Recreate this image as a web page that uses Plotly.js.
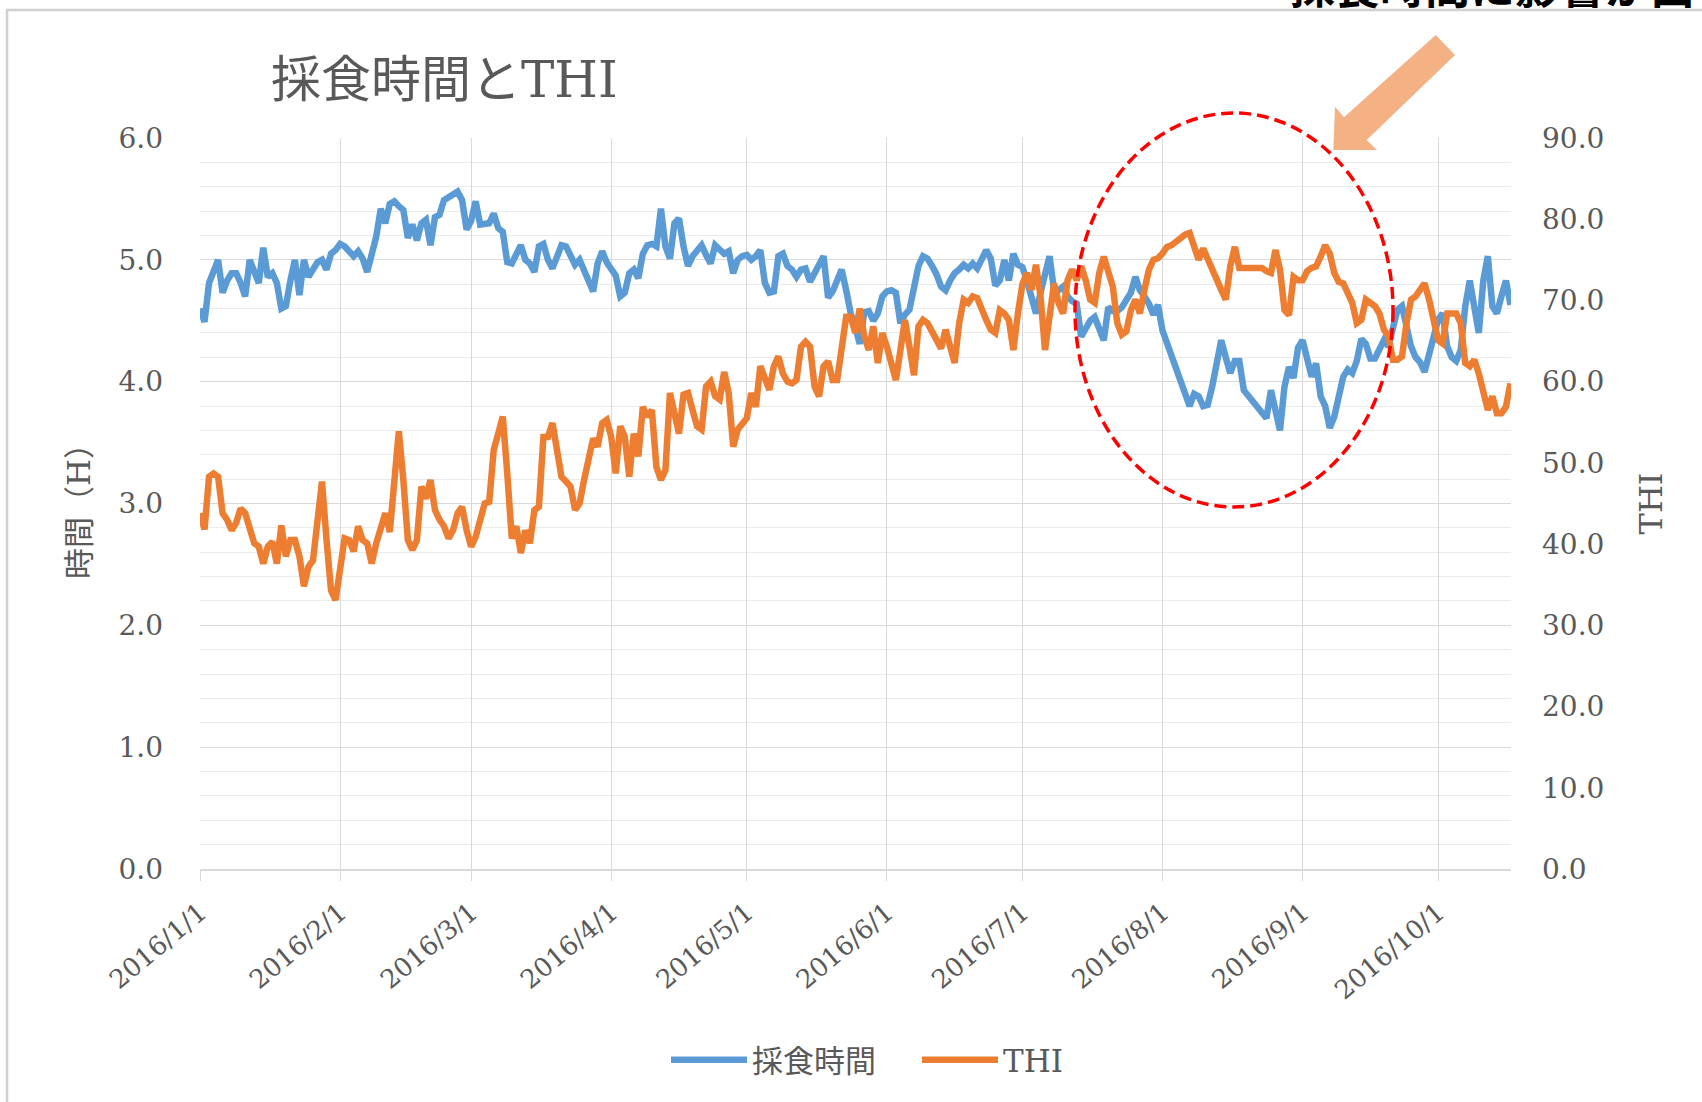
<!DOCTYPE html>
<html>
<head>
<meta charset="utf-8">
<script src="https://cdn.plot.ly/plotly-3.0.1.min.js"></script>
<style>
  html, body { margin: 0; padding: 0; background: #ffffff; }
  #chart { width: 1702px; height: 1102px; }
</style>
</head>
<body>
<div id="chart"></div>
<script>
// ---- data ----
const startDate = '2016-01-01';
const seriesNames = ['採食時間', 'THI'];
const chartTitle = '採食時間とTHI';
const leftAxisTitle = '時間（H）';
const rightAxisTitle = 'THI';
const noteText = '採食時間に影響が出ている';

// daily feeding time (hours), 2016/1/1 .. 2016/10/17
const feedHours = [
  4.60,4.49,4.81,4.90,5.00,4.73,4.83,4.89,4.89,4.81,
  4.70,5.00,4.89,4.81,5.10,4.86,4.89,4.81,4.60,4.62,
  4.83,5.00,4.71,5.00,4.86,4.92,4.98,5.00,4.92,5.05,
  5.08,5.13,5.11,5.07,5.03,5.07,5.01,4.90,5.03,5.19,
  5.42,5.30,5.46,5.48,5.44,5.41,5.18,5.29,5.16,5.30,
  5.33,5.12,5.35,5.37,5.49,5.51,5.53,5.56,5.49,5.25,
  5.32,5.48,5.29,5.30,5.30,5.38,5.26,5.23,4.98,4.97,
  5.05,5.12,5.00,4.97,4.90,5.11,5.13,5.00,4.93,5.03,
  5.12,5.11,5.03,4.96,5.00,4.92,4.83,4.74,4.97,5.07,
  4.98,4.93,4.87,4.70,4.73,4.89,4.92,4.85,5.05,5.12,
  5.13,5.11,5.42,5.11,5.01,5.30,5.34,5.11,4.95,5.03,
  5.07,5.12,5.04,4.97,5.12,5.08,5.05,5.07,4.89,5.00,
  5.03,5.04,5.00,5.03,5.08,4.81,4.73,4.74,5.03,5.05,
  4.95,4.92,4.86,4.92,4.93,4.82,4.89,4.97,5.03,4.69,
  4.74,4.83,4.92,4.75,4.56,4.45,4.31,4.57,4.58,4.50,
  4.56,4.70,4.74,4.75,4.73,4.48,4.55,4.59,4.78,4.95,
  5.03,5.01,4.95,4.88,4.78,4.75,4.83,4.89,4.92,4.96,
  4.93,4.97,4.93,5.01,5.08,5.01,4.79,4.83,5.00,4.83,
  5.05,4.96,4.94,4.83,4.70,4.56,4.73,4.89,5.03,4.75,
  4.75,4.78,4.70,4.66,4.64,4.37,4.45,4.50,4.53,4.45,
  4.34,4.61,4.58,4.58,4.61,4.67,4.73,4.86,4.75,4.70,
  4.64,4.55,4.63,4.42,4.31,4.20,4.10,3.99,3.88,3.80,
  3.90,3.88,3.80,3.81,3.96,4.17,4.34,4.20,4.07,4.17,
  4.17,3.93,3.88,3.84,3.78,3.74,3.70,3.93,3.74,3.60,
  3.96,4.12,4.03,4.28,4.34,4.20,4.04,4.15,3.88,3.80,
  3.62,3.71,3.85,4.04,4.10,4.07,4.17,4.35,4.31,4.19,
  4.19,4.26,4.34,4.29,4.42,4.59,4.62,4.42,4.29,4.20,
  4.16,4.08,4.23,4.34,4.51,4.56,4.29,4.20,4.17,4.26,
  4.62,4.83,4.62,4.40,4.83,5.03,4.62,4.56,4.70,4.83,
  4.63
];

// daily THI, 2016/1/1 .. 2016/10/17
const thiValues = [
  43.8,41.8,48.3,48.7,48.3,43.8,43.0,41.7,42.6,44.4,
  43.8,42.2,40.1,39.7,37.6,39.7,40.3,37.6,42.3,38.5,
  40.5,40.5,38.5,34.8,37.2,38.0,43.0,47.7,40.5,34.3,
  33.1,37.6,40.7,40.5,39.1,42.2,40.5,40.1,37.6,40.1,
  41.7,43.8,41.5,47.9,53.9,47.9,40.5,39.3,40.5,47.1,
  45.6,47.9,44.2,43.0,42.2,40.7,41.7,43.8,44.6,41.7,
  39.7,40.9,43.0,45.0,45.2,51.6,53.6,55.7,48.7,40.7,
  42.2,38.9,41.7,40.1,44.2,44.6,53.2,53.2,54.9,52.0,
  48.3,47.7,47.1,44.2,45.0,47.9,50.4,53.0,52.0,54.9,
  55.3,53.2,48.7,54.5,53.2,48.3,53.6,50.8,56.9,55.7,
  56.5,49.5,47.9,49.1,58.6,56.1,53.6,58.4,58.6,56.5,
  54.5,54.1,59.4,60.0,58.2,57.8,61.2,58.6,52.0,54.1,
  54.9,55.5,58.6,56.9,61.9,60.6,59.0,61.9,63.1,61.0,
  60.0,59.8,60.2,64.3,64.9,64.3,59.4,58.2,61.9,62.5,
  60.2,60.2,63.9,68.0,68.0,66.0,69.0,65.6,63.9,66.8,
  62.3,66.0,64.3,61.9,60.2,63.9,67.6,64.3,60.8,66.8,
  67.6,67.2,66.2,65.1,64.1,66.4,63.9,62.3,67.2,70.1,
  69.7,70.5,70.3,68.8,67.6,66.4,66.0,68.8,68.4,67.6,
  63.9,68.4,72.0,73.4,71.3,74.4,70.5,63.9,67.6,72.1,
  69.7,68.4,72.5,73.8,72.5,74.2,72.5,70.1,69.7,73.4,
  75.4,73.8,71.7,67.2,65.8,66.2,68.8,70.1,68.4,71.3,
  73.8,75.0,75.2,75.8,76.6,76.8,77.3,77.7,78.1,78.3,
  76.6,75.0,76.4,75.0,73.8,72.5,71.3,70.1,74.2,76.6,
  74.0,74.0,74.0,74.0,74.1,74.0,73.6,73.4,76.2,73.8,
  68.8,68.2,72.9,72.5,72.5,73.6,74.0,74.2,75.4,76.8,
  75.8,73.4,72.3,72.1,70.9,69.7,67.2,67.6,70.1,69.7,
  69.3,68.4,66.4,65.6,62.7,62.7,63.1,67.2,70.1,70.5,
  71.3,72.1,70.1,67.6,65.1,64.7,68.4,68.4,68.4,67.2,
  62.3,61.9,62.7,61.0,59.0,56.5,58.2,56.1,56.1,56.9,
  59.8
];

// one date per daily value
const dates = [];
(function () {
  const d0 = new Date(startDate + 'T00:00:00Z');
  for (let i = 0; i < feedHours.length; i++) {
    const d = new Date(d0.getTime() + i * 86400000);
    dates.push(d.toISOString().slice(0, 10));
  }
})();

// ---- styling ----
const gray = '#595959';
const serifCJK = 'DejaVu Serif, Noto Sans CJK JP, serif';

// plot-area pixel box (for decorations only)
const L = 200, R = 1511, T = 138, B = 869;
const px = x => (x - L) / (R - L);
const py = y => (B - y) / (B - T);

const arrowPts = [[1435.7,35],[1455,55],[1366.7,140],[1377,150],[1333.3,150],[1335,106.7],[1344,117.3]];
const arrowPath = 'M ' + arrowPts.map(p => px(p[0]).toFixed(5) + ' ' + py(p[1]).toFixed(5)).join(' L ') + ' Z';

const traces = [
  {
    x: dates, y: feedHours, name: seriesNames[0], type: 'scatter', mode: 'lines',
    line: { color: '#5B9BD5', width: 6.5 }, yaxis: 'y'
  },
  {
    x: dates, y: thiValues, name: seriesNames[1], type: 'scatter', mode: 'lines',
    line: { color: '#ED7D31', width: 6.5 }, yaxis: 'y2'
  }
];

const layout = {
  width: 1702, height: 1102,
  paper_bgcolor: '#ffffff', plot_bgcolor: '#ffffff',
  margin: { l: L, r: 1702 - R, t: T, b: 1102 - B, pad: 0 },
  font: { family: serifCJK, color: gray },
  title: {
    text: chartTitle, xref: 'container', yref: 'container',
    x: 271 / 1702, xanchor: 'left', y: 1 - 79 / 1102, yanchor: 'middle',
    font: { family: serifCJK, size: 50, color: gray }
  },
  showlegend: true,
  legend: {
    orientation: 'h', xref: 'container', yref: 'container',
    x: 666 / 1702, xanchor: 'left', y: 1 - 1060 / 1102, yanchor: 'middle',
    font: { family: serifCJK, size: 31, color: gray },
    itemwidth: 76, entrywidth: 160, entrywidthmode: 'pixels',
    bgcolor: 'rgba(0,0,0,0)'
  },
  xaxis: {
    type: 'date',
    range: ['2016-01-01', '2016-10-17 03:00'],
    tick0: '2016-01-01', dtick: 'M1',
    tickformat: '%Y/%-m/%-d',
    tickangle: -40,
    tickfont: { family: serifCJK, size: 26, color: gray },
    ticks: 'outside', ticklen: 10, tickcolor: '#D9D9D9', tickwidth: 1,
    ticklabelstandoff: 6,
    showgrid: true, gridcolor: '#D9D9D9', gridwidth: 1,
    showline: true, linecolor: '#D9D9D9', linewidth: 2,
    zeroline: false, automargin: false, fixedrange: true
  },
  yaxis: {
    range: [0, 6], dtick: 1, tick0: 0, tickformat: '.1f',
    tickfont: { family: serifCJK, size: 28, color: gray },
    ticks: '', ticklabelstandoff: 36,
    showgrid: true, gridcolor: '#D9D9D9', gridwidth: 1,
    minor: { dtick: 0.2, showgrid: true, gridcolor: '#EBEBEB', gridwidth: 1, ticks: '' },
    showline: false, zeroline: false, automargin: false, fixedrange: true,
    title: { text: leftAxisTitle, font: { family: serifCJK, size: 31, color: gray }, standoff: 18 }
  },
  yaxis2: {
    overlaying: 'y', side: 'right',
    range: [0, 90], dtick: 10, tick0: 0, tickformat: '.1f',
    tickfont: { family: serifCJK, size: 28, color: gray },
    ticks: '', ticklabelstandoff: 30,
    showgrid: false, showline: false, zeroline: false, automargin: false, fixedrange: true,
    title: { text: rightAxisTitle, font: { family: serifCJK, size: 32, color: gray }, standoff: 36 }
  },
  shapes: [
    // outer chart frame
    { type: 'rect', xref: 'paper', yref: 'paper', layer: 'below',
      x0: px(7), x1: px(1720), y0: py(1120), y1: py(10),
      line: { color: '#D0D0D0', width: 2.5 }, fillcolor: 'rgba(0,0,0,0)' },
    // dashed highlight ellipse
    { type: 'circle', xref: 'paper', yref: 'paper',
      x0: px(1075), x1: px(1393), y0: py(507), y1: py(113),
      line: { color: '#FF0000', width: 3.5, dash: '12px,6px' } },
    // arrow
    { type: 'path', xref: 'paper', yref: 'paper', path: arrowPath,
      fillcolor: '#F4B183', line: { width: 0 } }
  ],
  annotations: [
    { xref: 'paper', yref: 'paper', x: px(1288), y: py(19), xanchor: 'left', yanchor: 'bottom',
      text: '<b>' + noteText + '</b>', showarrow: false,
      font: { family: 'Noto Sans CJK JP, sans-serif', size: 45, color: '#000000' } }
  ]
};

Plotly.newPlot('chart', traces, layout, { displayModeBar: false, staticPlot: true });
</script>
</body>
</html>
